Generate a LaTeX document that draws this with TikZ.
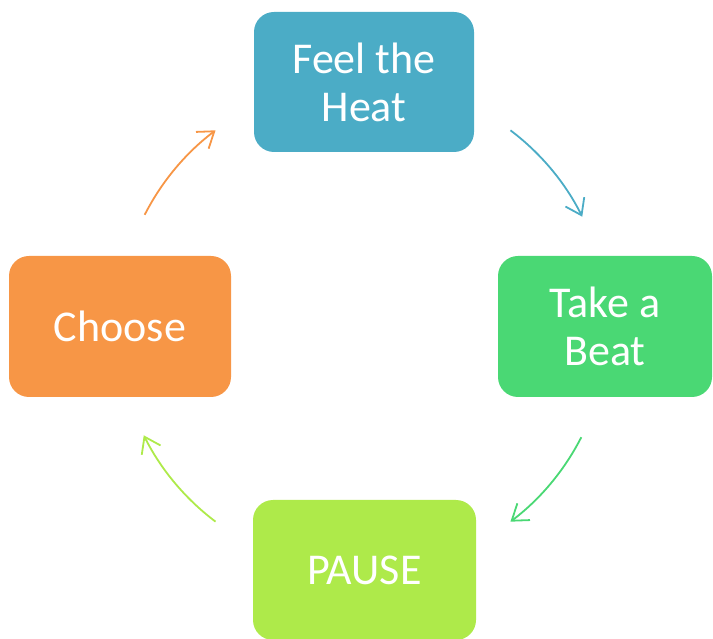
\documentclass[tikz,border=0pt]{standalone}
\usepackage{fontspec}
\setmainfont{Carlito}
\usetikzlibrary{arrows.meta}
\definecolor{heatcol}{HTML}{4BACC6}
\definecolor{beatcol}{HTML}{4AD874}
\definecolor{pausecol}{HTML}{AEEA4A}
\definecolor{choosecol}{HTML}{F79646}
\tikzset{
  stagebox/.style={rounded corners=20pt, text=white, align=center,
    font=\fontsize{44}{48}\selectfont, inner sep=0pt},
  cyclearrow/.style={line width=1.8pt, -{Straight Barb[length=15pt,width=21pt]}}
}
\begin{document}
\begin{tikzpicture}[x=1pt,y=1pt]
\useasboundingbox (0,0) rectangle (713,638);
\clip (0,0) rectangle (713,638);
% the four stages
\node[stagebox, fill=heatcol, minimum width=220pt, minimum height=140pt] (heat) at (364,556) {Feel the\\Heat};
\node[stagebox, fill=beatcol, minimum width=214pt, minimum height=141pt] (beat) at (605,311.5) {Take a\\Beat};
\node[stagebox, fill=pausecol, minimum width=223pt, minimum height=140pt] (pause) at (364.5,68) {PAUSE};
\node[stagebox, fill=choosecol, minimum width=222pt, minimum height=141pt] (choose) at (120,311.5) {Choose};
% arcs round the middle
\coordinate (mid) at (363,312);
\path (mid) ++(53:245) coordinate (heatout);
\path (mid) ++(-27:245) coordinate (beatout);
\path (mid) ++(-127:245) coordinate (pauseout);
\path (mid) ++(153:245) coordinate (chooseout);
\draw[cyclearrow, heatcol] (heatout) arc[start angle=53, end angle=26.5, radius=245];
\draw[cyclearrow, beatcol] (beatout) arc[start angle=-27, end angle=-53, radius=245];
\draw[cyclearrow, pausecol] (pauseout) arc[start angle=-127, end angle=-153.5, radius=245];
\draw[cyclearrow, choosecol] (chooseout) arc[start angle=153, end angle=127, radius=245];
\end{tikzpicture}
\end{document}
